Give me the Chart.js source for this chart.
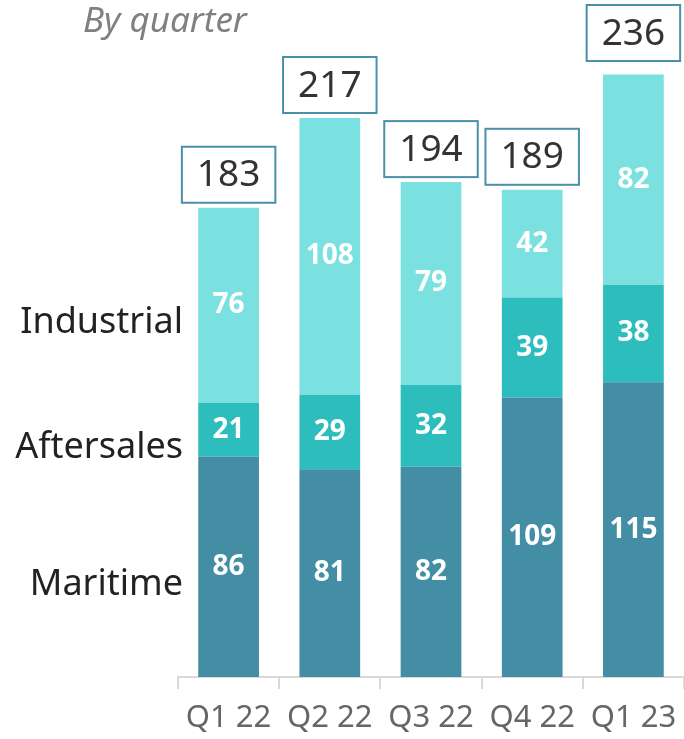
<!DOCTYPE html>
<html>
<head>
<meta charset="utf-8">
<script src="https://cdn.jsdelivr.net/npm/chart.js@4/dist/chart.umd.min.js"></script>
<style>
  html, body { margin: 0; padding: 0; background: #fff; overflow: hidden; }
  #wrap { width: 684px; height: 739px; overflow: hidden; }
</style>
</head>
<body>
<!-- canvas is a bit taller than the window so the tick labels can sit lower -->
<div id="wrap"><canvas id="revenueChart" width="684" height="747"></canvas></div>
<script>
// ===== Data =====
const quarters = ["Q1 22", "Q2 22", "Q3 22", "Q4 22", "Q1 23"];
const maritime = [86, 81, 82, 109, 115];
const aftersales = [21, 29, 32, 39, 38];
const industrial = [76, 108, 79, 42, 82];
const totals = [183, 217, 194, 189, 236];
const segmentNames = ["Maritime", "Aftersales", "Industrial"];

const FONT = "'Noto Sans', 'Open Sans', sans-serif";

// values inside bars, totals in boxes, names left of the first bar, subtitle
const labelPlugin = {
  id: "labelPlugin",
  afterDatasetsDraw(chart) {
    const ctx = chart.ctx;
    ctx.save();

    // white values in the middle of each segment
    ctx.fillStyle = "#ffffff";
    ctx.font = "bold 28px " + FONT;
    ctx.textAlign = "center";
    ctx.textBaseline = "middle";
    chart.data.datasets.forEach((ds, di) => {
      chart.getDatasetMeta(di).data.forEach((bar, i) => {
        ctx.fillText(String(ds.data[i]), bar.x, (bar.y + bar.base) / 2);
      });
    });

    // totals in outlined boxes above each stack
    const topMeta = chart.getDatasetMeta(chart.data.datasets.length - 1);
    ctx.font = "37px " + FONT;
    topMeta.data.forEach((bar, i) => {
      const txt = String(totals[i]);
      const w = ctx.measureText(txt).width + 30;
      const h = 56;
      // the highest box sits tighter against the top edge
      const bottom = bar.y < 100 ? h + 5 : bar.y - 5;
      ctx.fillStyle = "#ffffff";
      ctx.fillRect(bar.x - w / 2, bottom - h, w, h);
      ctx.strokeStyle = "#4a90a8";
      ctx.lineWidth = 2;
      ctx.strokeRect(bar.x - w / 2, bottom - h, w, h);
      ctx.fillStyle = "#333333";
      ctx.fillText(txt, bar.x, bottom - h / 2 + 1);
    });

    // segment names next to the first bar
    ctx.font = "36px " + FONT;
    ctx.textAlign = "right";
    ctx.fillStyle = "#222222";
    segmentNames.forEach((name, di) => {
      const bar = chart.getDatasetMeta(di).data[0];
      ctx.fillText(name, 183, (bar.y + bar.base) / 2 + 18);
    });

    // subtitle
    ctx.font = "italic 35px " + FONT;
    ctx.textAlign = "left";
    ctx.fillStyle = "#808080";
    ctx.fillText("By quarter", 83, 22);

    ctx.restore();
  }
};

const ctx = document.getElementById("revenueChart").getContext("2d");
new Chart(ctx, {
  type: "bar",
  data: {
    labels: quarters,
    datasets: [
      { label: "Maritime", data: maritime, backgroundColor: "#438ea5" },
      { label: "Aftersales", data: aftersales, backgroundColor: "#2ebdbd" },
      { label: "Industrial", data: industrial, backgroundColor: "#7ae1e0" }
    ]
  },
  options: {
    responsive: false,
    animation: false,
    layout: { padding: { left: 178, right: 0, top: 0, bottom: 0 } },
    datasets: { bar: { barPercentage: 0.6, categoryPercentage: 1 } },
    plugins: {
      legend: { display: false },
      tooltip: { enabled: false }
    },
    scales: {
      x: {
        stacked: true,
        border: { color: "#d9d9d9", width: 2 },
        grid: { drawOnChartArea: false, drawTicks: true, tickLength: 12, color: "#d9d9d9", lineWidth: 2 },
        ticks: { color: "#666666", font: { family: FONT, size: 31, lineHeight: 1.48 }, padding: 6 }
      },
      y: {
        stacked: true,
        display: false,
        min: 0,
        max: 264
      }
    }
  },
  plugins: [labelPlugin]
});
</script>
</body>
</html>
